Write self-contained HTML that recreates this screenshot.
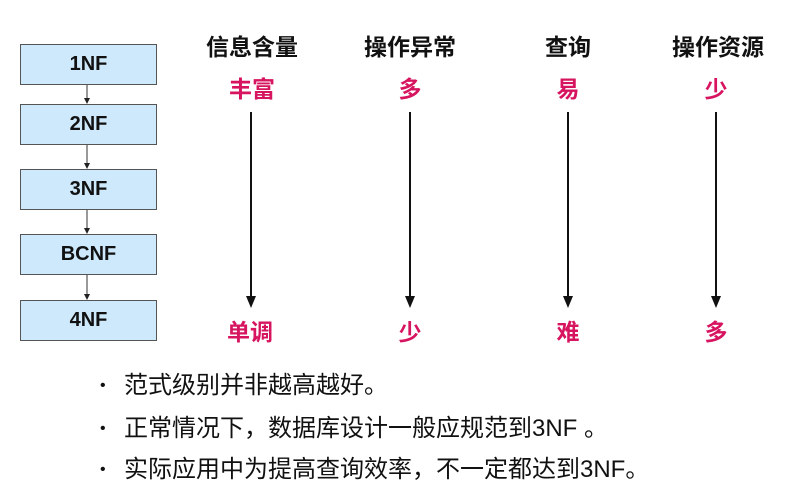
<!DOCTYPE html>
<html><head><meta charset="utf-8"><style>
body{margin:0;width:803px;height:499px;background:#fff;position:relative;overflow:hidden;font-family:"Liberation Sans","Noto Sans CJK SC",sans-serif}
.box{position:absolute;left:20px;width:137px;height:41px;background:#cde9fb;border:1px solid #555;box-sizing:border-box;font-weight:bold;font-size:20px;text-align:center;line-height:39px;color:#111}
.t{position:absolute;font-weight:bold;font-size:23px;color:#111;transform:translateX(-50%);white-space:nowrap}
.r{position:absolute;font-weight:bold;font-size:23px;color:#d6145f;transform:translateX(-50%);white-space:nowrap}
.b{position:absolute;left:100px;font-size:24px;color:#111;white-space:nowrap}
.b span{display:inline-block;width:24px;font-size:16px;vertical-align:3px}
</style></head><body>
<div class="box" style="top:44px">1NF</div>
<div class="box" style="top:104px">2NF</div>
<div class="box" style="top:169px">3NF</div>
<div class="box" style="top:234px">BCNF</div>
<div class="box" style="top:300px">4NF</div>
<svg width="803" height="499" style="position:absolute;left:0;top:0">
<g stroke="#333" stroke-width="1">
<line x1="87" y1="85" x2="87" y2="99"/>
<line x1="87" y1="145" x2="87" y2="164"/>
<line x1="87" y1="210" x2="87" y2="229"/>
<line x1="87" y1="275" x2="87" y2="295"/>
</g>
<g fill="#222">
<path d="M84,98 L90,98 L87,104z"/>
<path d="M84,163 L90,163 L87,169z"/>
<path d="M84,228 L90,228 L87,234z"/>
<path d="M84,294 L90,294 L87,300z"/>
</g>
<g stroke="#111" stroke-width="2">
<line x1="251" y1="112" x2="251" y2="298"/>
<line x1="410" y1="112" x2="410" y2="298"/>
<line x1="568" y1="112" x2="568" y2="298"/>
<line x1="716" y1="112" x2="716" y2="298"/>
</g>
<g fill="#111">
<path d="M246,296 L256,296 L251,308z"/>
<path d="M405,296 L415,296 L410,308z"/>
<path d="M563,296 L573,296 L568,308z"/>
<path d="M711,296 L721,296 L716,308z"/>
</g>
</svg>
<div class="t" style="left:252px;top:28px">信息含量</div>
<div class="t" style="left:410px;top:28px">操作异常</div>
<div class="t" style="left:568px;top:28px">查询</div>
<div class="t" style="left:718px;top:28px">操作资源</div>
<div class="r" style="left:252px;top:70px">丰富</div>
<div class="r" style="left:410px;top:70px">多</div>
<div class="r" style="left:568px;top:70px">易</div>
<div class="r" style="left:716px;top:70px">少</div>
<div class="r" style="left:250px;top:313px">单调</div>
<div class="r" style="left:410px;top:313px">少</div>
<div class="r" style="left:568px;top:313px">难</div>
<div class="r" style="left:716px;top:313px">多</div>
<div class="b" style="top:365px"><span>•</span>范式级别并非越高越好。</div>
<div class="b" style="top:408px"><span>•</span>正常情况下，数据库设计一般应规范到3NF 。</div>
<div class="b" style="top:449px"><span>•</span>实际应用中为提高查询效率，不一定都达到3NF。</div>
</body></html>
